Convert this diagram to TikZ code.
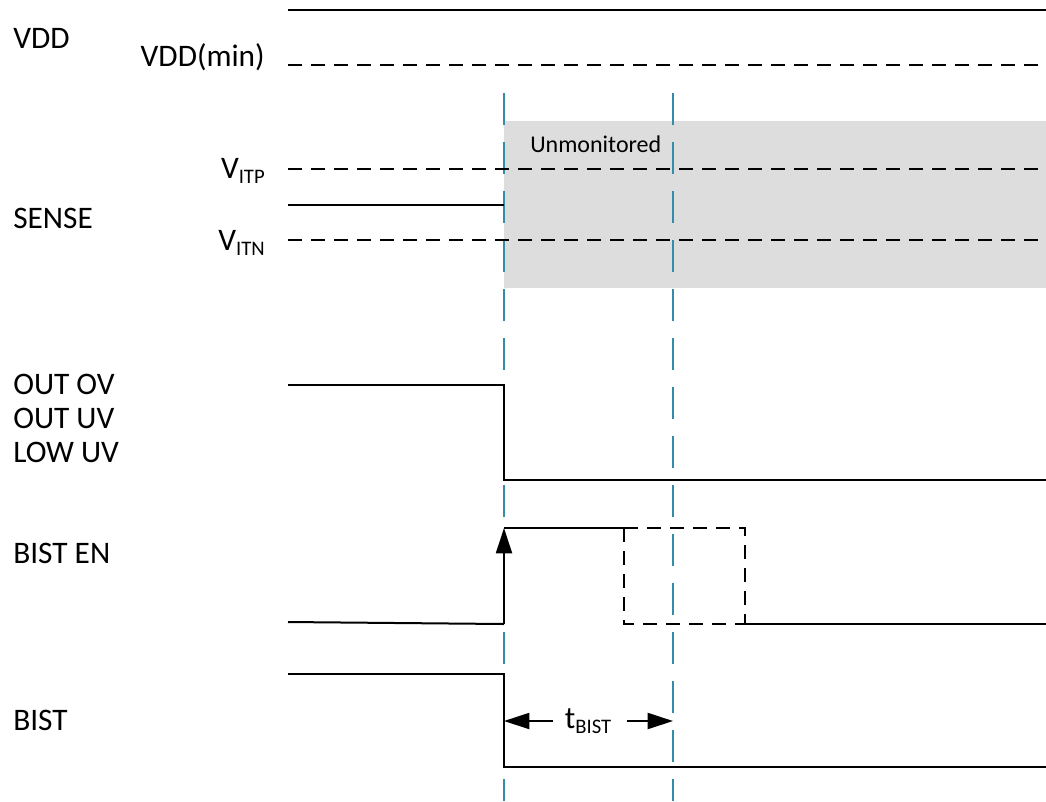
\documentclass[tikz,border=0pt]{standalone}
\usepackage{fontspec}
\setmainfont{Carlito}
\usepackage{xcolor}
\usetikzlibrary{arrows.meta}

\definecolor{markblue}{RGB}{52,140,170}
\definecolor{unmongray}{RGB}{221,221,221}
\newcommand{\lowsub}[1]{\raisebox{-0.35ex}{\fontsize{15.5}{15.5}\selectfont #1}}

\begin{document}
\begin{tikzpicture}[x=0.75pt,y=-0.75pt,
  wave/.style={line width=1.5pt},
  thresh/.style={line width=1.5pt,dash pattern=on 10.5pt off 6.75pt},
  marker/.style={line width=1.5pt,markblue,dash pattern=on 24pt off 12.75pt},
  lbl/.style={font=\fontsize{23.5}{28}\selectfont,inner sep=0pt},
  dim/.style={line width=1.5pt,-{Triangle[length=19pt,width=12pt]}}]
\useasboundingbox (0,0) rectangle (1046,801);

% unmonitored window
\fill[unmongray] (504,121) rectangle (1046,288);
\node[lbl,font=\fontsize{18}{21}\selectfont,anchor=base west] (unmon) at (530,152) {Unmonitored};

% time markers
\coordinate (m1) at (504,93);
\coordinate (m2) at (673,93);
\draw[marker] (m1) -- (504,801);
\draw[marker] (m2) -- (673,801);

% signal names
\node[lbl,anchor=base west] (vdd) at (13,48) {VDD};
\node[lbl,anchor=base west] (sense) at (13,228) {SENSE};
\node[lbl,anchor=base west] (outov) at (13,394) {OUT OV};
\node[lbl,anchor=base west] (outuv) at (13,428) {OUT UV};
\node[lbl,anchor=base west] (lowuv) at (13,462) {LOW UV};
\node[lbl,anchor=base west] (bisten) at (13,563) {BIST EN};
\node[lbl,anchor=base west] (bist) at (13,730) {BIST};

% thresholds
\node[lbl,anchor=base east] (vddmin) at (265,66) {VDD(min)};
\node[lbl,anchor=base east] (vitp) at (265,178) {V\lowsub{ITP}};
\node[lbl,anchor=base east] (vitn) at (265,250) {V\lowsub{ITN}};
\draw[thresh] (288,65) -- (1046,65);
\draw[thresh] (288,169) -- (1046,169);
\draw[thresh] (288,240) -- (1046,240);

% VDD
\draw[wave] (288,10) -- (1046,10);

% SENSE
\draw[wave] (288,205) -- (504,205);

% OUT OV / OUT UV / LOW UV
\draw[wave] (288,385) -- (504,385) -- (504,480) -- (1046,480);

% BIST EN
\draw[wave] (288,622) -- (504,624);
\draw[dim] (504,624) -- (504,528);
\draw[wave] (504,528) -- (624,528);
\draw[thresh] (624,528) -- (745,528) -- (745,624);
\draw[thresh] (624,528) -- (624,624) -- (745,624);
\draw[wave] (745,624) -- (1046,624);

% BIST
\draw[wave] (288,674) -- (504,674) -- (504,767) -- (1046,767);

% BIST duration
\node[lbl] (tbist) at (588,721) {t\lowsub{BIST}};
\coordinate (tl) at (553,721);
\coordinate (tr) at (627,721);
\draw[dim] (tl) -- (m1 |- tl);
\draw[dim] (tr) -- (m2 |- tr);
\end{tikzpicture}
\end{document}
